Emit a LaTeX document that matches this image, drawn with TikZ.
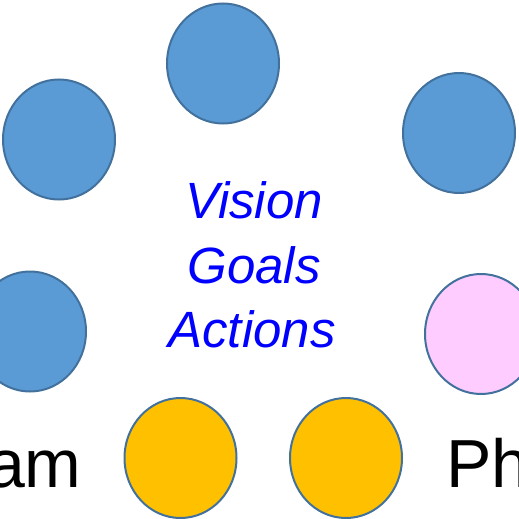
\documentclass[tikz,border=0pt]{standalone}
\usepackage{fontspec}
\setmainfont{Liberation Sans}
\usetikzlibrary{shapes.geometric}

\definecolor{discline}{HTML}{41719C}
\definecolor{discblue}{HTML}{5B9BD5}
\definecolor{discgold}{HTML}{FFC000}
\definecolor{discpink}{HTML}{FFCCFF}

\tikzset{
	disc/.style={ellipse,draw=discline,line width=1pt,minimum width=56pt,minimum height=60pt,inner sep=0pt},
	bluedisc/.style={disc,fill=discblue},
	golddisc/.style={disc,fill=discgold},
	pinkdisc/.style={disc,fill=discpink},
	aim/.style={font=\fontsize{25.5}{30}\selectfont\itshape,text=blue,anchor=base,inner sep=0pt},
	who/.style={font=\fontsize{34}{40}\selectfont,inner sep=0pt}
}

\begin{document}
\begin{tikzpicture}[x=0.5pt,y=-0.5pt]
		\useasboundingbox (0,0) rectangle (519,519);
		\clip (0,0) rectangle (519,519);
		
		% Ring of discs
		\node[bluedisc] (top) at (223,63.5) {};
		\node[bluedisc] (upleft) at (59,139.5) {};
		\node[bluedisc] (upright) at (459,133) {};
		\node[bluedisc] (left) at (30,331.5) {};
		\node[pinkdisc] (right) at (481,334) {};
		
		%% Bottom pair
		\node[golddisc] (lowleft) at (180.5,458) {};
		\node[golddisc] (lowright) at (346,458) {};
		
		% Centre words
		\node[aim] (vision) at (254,218) {Vision};
		\node[aim] (goals) at (254,283) {Goals};
		\node[aim] (actions) at (252,347) {Actions};
		
		%% Side labels
		\node[who,anchor=base east] (team) at (82,487) {am};
		\node[who,anchor=base west] (ph) at (446,487) {Ph};
	\end{tikzpicture}
\end{document}
